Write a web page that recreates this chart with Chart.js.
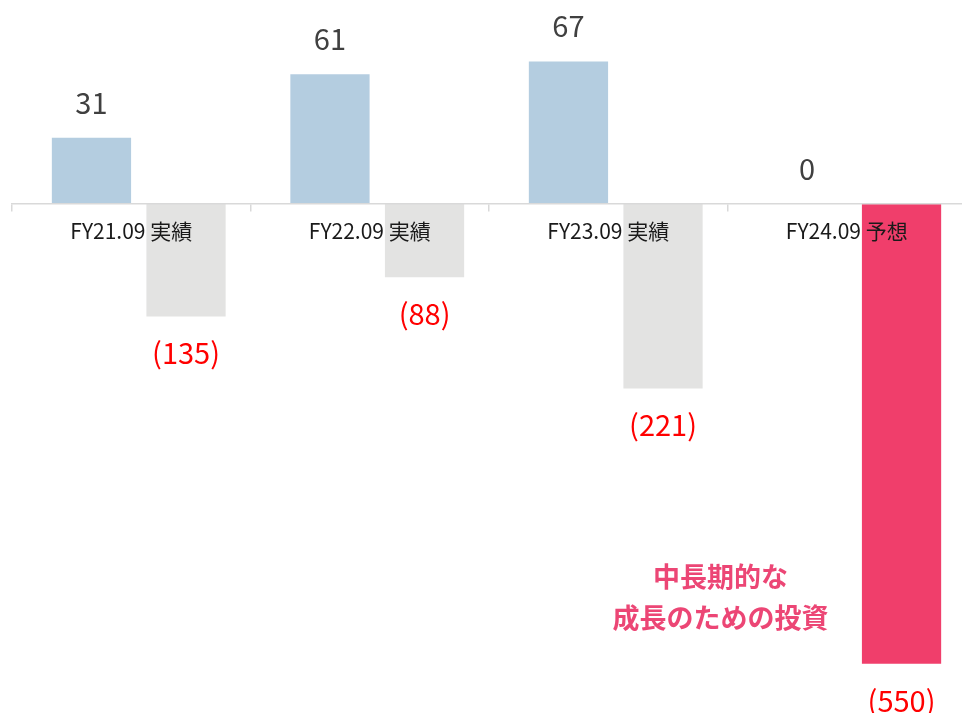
<!DOCTYPE html>
<html lang="ja">
<head>
<meta charset="utf-8">
<title>損益の推移</title>
<script src="https://cdn.jsdelivr.net/npm/chart.js@4.4.1/dist/chart.umd.min.js"></script>
<style>
  html, body { margin: 0; padding: 0; background: #fff; overflow: hidden; }
  /* 右端の目盛は画面外に少しはみ出す */
  #wrap { position: relative; width: 966px; height: 713px; }
</style>
</head>
<body>
<div id="wrap"><canvas id="profitChart"></canvas></div>
<script>
// 年度ラベル
const periods = ['FY21.09 実績', 'FY22.09 実績', 'FY23.09 実績', 'FY24.09 予想'];
// 上段 (プラス)
const gains = [31, 61, 67, 0];
// 下段 (マイナス、括弧付きで表示)
const losses = [-135, -88, -221, -550];
const lossColors = ['#e3e3e2', '#e3e3e2', '#e3e3e2', '#f03e6b'];
// 注記
const noteLines = ['中長期的な', '成長のための投資'];

const FONT = "'Noto Sans CJK JP', 'Noto Sans', sans-serif";

// 棒グループを少し右へずらす
const groupShift = {
  id: 'groupShift',
  beforeDatasetsDraw(chart, args, opts) {
    chart.ctx.save();
    chart.ctx.translate(opts.shift, 0);
  },
  afterDatasetsDraw(chart) {
    chart.ctx.restore();
  }
};

// 棒の値ラベル
const valueLabels = {
  id: 'valueLabels',
  afterDatasetsDraw(chart, args, opts) {
    const ctx = chart.ctx;
    ctx.save();
    ctx.font = opts.size + 'px ' + FONT;
    ctx.textAlign = 'center';
    ctx.textBaseline = 'alphabetic';
    chart.data.datasets.forEach((ds, i) => {
      chart.getDatasetMeta(i).data.forEach((bar, j) => {
        const v = ds.data[j];
        const x = bar.x + opts.shift;
        if (v >= 0) {
          ctx.fillStyle = '#404040';
          ctx.fillText(String(v), x, bar.y - 24);
        } else {
          ctx.fillStyle = '#ff0000';
          ctx.fillText('(' + (-v) + ')', x, bar.y + 48);
        }
      });
    });
    ctx.restore();
  }
};

// 注記テキスト
const noteText = {
  id: 'noteText',
  afterDraw(chart, args, opts) {
    const ctx = chart.ctx;
    ctx.save();
    ctx.font = 'bold 27px ' + FONT;
    ctx.fillStyle = opts.color;
    ctx.textAlign = 'center';
    ctx.textBaseline = 'middle';
    opts.lines.forEach((t, k) => ctx.fillText(t, opts.x, opts.y + k * opts.gap));
    ctx.restore();
  }
};

new Chart(document.getElementById('profitChart'), {
  type: 'bar',
  data: {
    labels: periods,
    datasets: [
      {
        label: 'gain',
        data: gains,
        yAxisID: 'y',
        backgroundColor: '#b4cde0',
        categoryPercentage: 0.793,
        barPercentage: 0.838
      },
      {
        label: 'loss',
        data: losses,
        yAxisID: 'y2',
        backgroundColor: lossColors,
        categoryPercentage: 0.793,
        barPercentage: 0.838
      }
    ]
  },
  options: {
    responsive: true,
    maintainAspectRatio: false,
    animation: false,
    layout: { padding: { left: 12, right: 0, top: 0, bottom: 0 } },
    plugins: {
      legend: { display: false },
      tooltip: { enabled: false },
      groupShift: { shift: 7.5 },
      valueLabels: { shift: 7.5, size: 29 },
      noteText: { lines: noteLines, x: 720.5, y: 577, gap: 40.5, color: '#ec4675' }
    },
    scales: {
      x: {
        position: { y: 0 },
        offset: true,
        border: { color: '#d9d9d9', width: 1.5, z: 1 },
        grid: {
          drawOnChartArea: false,
          drawTicks: true,
          tickLength: 7,
          color: '#d9d9d9',
          lineWidth: 1.5,
          offset: true
        },
        ticks: {
          z: 1,
          color: '#1a1a1a',
          font: { family: FONT, size: 21 },
          padding: 8,
          maxRotation: 0,
          autoSkip: false
        }
      },
      y: { display: false, min: -240.3, max: 96 },
      y2: { display: false, min: -608.7, max: 243.1 }
    }
  },
  plugins: [groupShift, valueLabels, noteText]
});
</script>
</body>
</html>
